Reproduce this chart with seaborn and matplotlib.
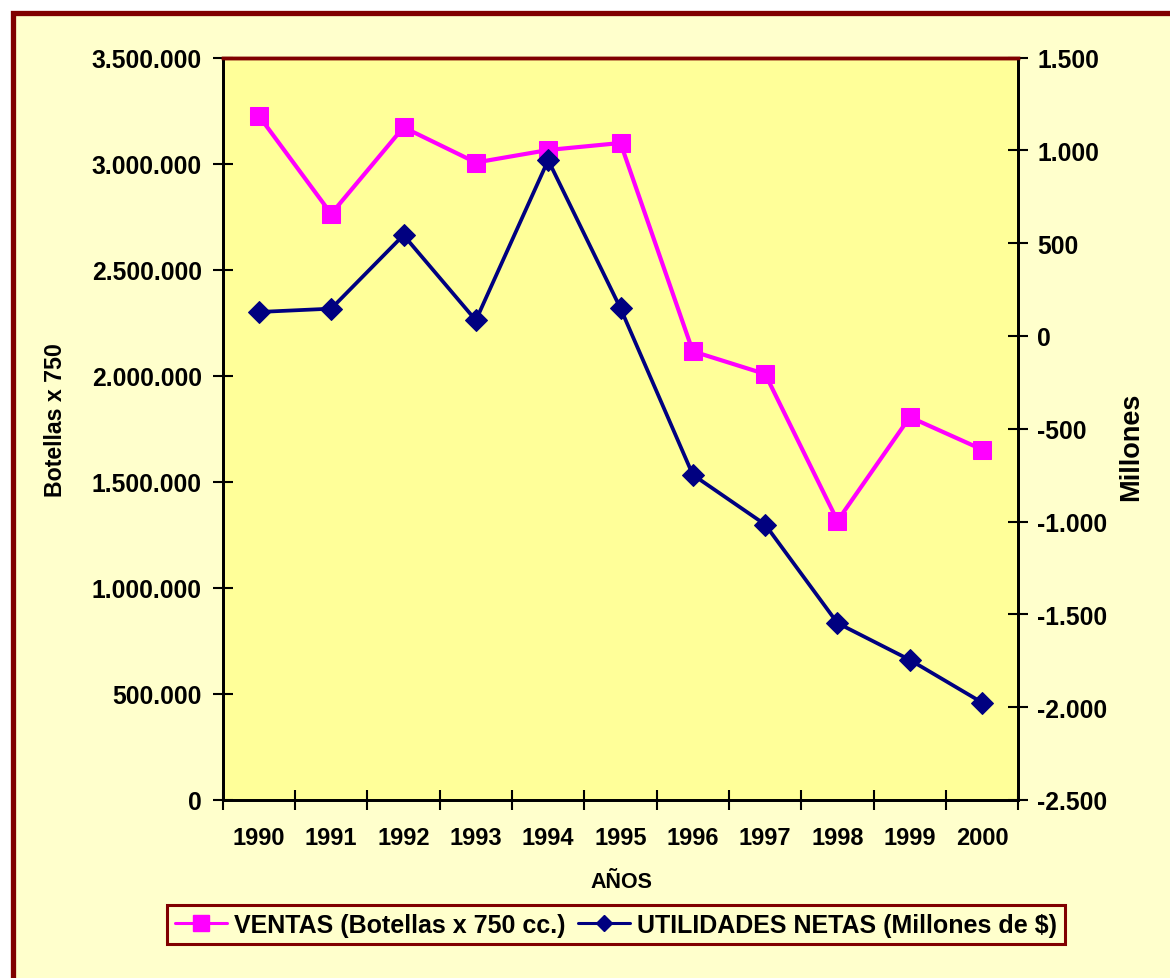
import matplotlib
matplotlib.use("Agg")
import matplotlib.pyplot as plt
import seaborn as sns
import numpy as np
from matplotlib.patches import Rectangle
from matplotlib.ticker import FuncFormatter, FixedLocator, NullFormatter
from matplotlib.lines import Line2D

# ---- data ----
years = [1990, 1991, 1992, 1993, 1994, 1995, 1996, 1997, 1998, 1999, 2000]
ventas = [3225000, 2763000, 3171000, 3005000, 3064000, 3097000,
          2115000, 2008000, 1316000, 1805000, 1652000]
utilidades = [129, 147, 543, 84, 947, 149, -748, -1016, -1547, -1745, -1975]
left_ticks = [0, 500000, 1000000, 1500000, 2000000, 2500000, 3000000, 3500000]
right_ticks = [-2500, -2000, -1500, -1000, -500, 0, 500, 1000, 1500]
label_ventas = "VENTAS (Botellas x 750 cc.)"
label_util = "UTILIDADES NETAS (Millones de $)"

sns.set_theme(style="white")
plt.rcParams['font.family'] = ['Liberation Sans', 'DejaVu Sans']
plt.rcParams['font.weight'] = 'bold'
plt.rcParams['text.color'] = 'black'
plt.rcParams['axes.labelcolor'] = 'black'
plt.rcParams['xtick.color'] = 'black'
plt.rcParams['ytick.color'] = 'black'

MAGENTA = "#FF00FF"
NAVY = "#000080"
DARKRED = "#800000"

fig = plt.figure(figsize=(11.7, 9.79), dpi=100, facecolor="white")
# outer chart frame
fig.patches.append(Rectangle((12.5 / 1170, -0.2), 1.3, 1.2 - 14 / 979,
                             transform=fig.transFigure, facecolor="#FFFFCC",
                             edgecolor=DARKRED, linewidth=3.8, zorder=-10))

ax = fig.add_axes([222.7 / 1170, 1 - 801 / 979, 795.6 / 1170, 742.5 / 979])
ax.set_facecolor("#FFFF99")
ax2 = ax.twinx()

sns.lineplot(x=years, y=ventas, ax=ax, color=MAGENTA, marker='s', markersize=13.5,
             markeredgecolor=MAGENTA, linewidth=3, label=label_ventas, legend=False)
sns.lineplot(x=years, y=utilidades, ax=ax2, color=NAVY, marker='D', markersize=11,
             markeredgecolor=NAVY, linewidth=2.7, label=label_util, legend=False)

ax.set_xlim(1989.5, 2000.5)
ax.set_ylim(0, 3500000)
ax2.set_ylim(-2500, 1500)

ax.yaxis.set_major_locator(FixedLocator(left_ticks))
ax2.yaxis.set_major_locator(FixedLocator(right_ticks))
fmt = FuncFormatter(lambda v, p: f"{int(round(v)):,}".replace(",", "."))
ax.yaxis.set_major_formatter(fmt)
ax2.yaxis.set_major_formatter(fmt)

ax.xaxis.set_major_locator(FixedLocator(np.arange(1989.5, 2001, 1.0)))
ax.xaxis.set_major_formatter(NullFormatter())
ax.xaxis.set_minor_locator(FixedLocator(years))
ax.xaxis.set_minor_formatter(FuncFormatter(lambda v, p: str(int(round(v)))))

ax.tick_params(axis='x', which='major', direction='inout', length=15, width=1.5,
               color='black', bottom=True)
ax.tick_params(axis='x', which='minor', length=0, pad=19, labelsize=17, bottom=True)
ax.tick_params(axis='y', direction='inout', length=15, width=1.5, color='black',
               pad=7.5, labelsize=17.8, left=True)
ax2.tick_params(axis='y', direction='inout', length=15, width=1.5, color='black',
                pad=6, labelsize=17.8, right=True)
for lab in ax.get_xticklabels(minor=True) + ax.get_yticklabels() + ax2.get_yticklabels():
    lab.set_fontweight('bold')

for a in (ax, ax2):
    for s in ('left', 'bottom', 'right'):
        a.spines[s].set_color('black')
        a.spines[s].set_linewidth(2)
    a.spines['top'].set_color(DARKRED)
    a.spines['top'].set_linewidth(2.5)
ax2.grid(False)
ax.grid(False)

ax.set_ylabel("Botellas x 750", fontsize=16.7, fontweight='bold')
ax.yaxis.set_label_coords(-0.1957, 0.513)
ax2.set_ylabel("Millones", fontsize=19.5, fontweight='bold')
ax2.yaxis.set_label_coords(1.1253, 0.477)
ax.set_xlabel("AÑOS", fontsize=15.5, fontweight='bold')
ax.xaxis.set_label_coords(0.501, -0.0956)

handles = [Line2D([], [], color=MAGENTA, marker='s', markersize=11, linewidth=2.2,
                  markeredgecolor=MAGENTA),
           Line2D([], [], color=NAVY, marker='D', markersize=8.5, linewidth=2.2,
                  markeredgecolor=NAVY)]
leg = fig.legend(handles, [label_ventas, label_util], loc='center',
                 bbox_to_anchor=(616 / 1170, 1 - 925.6 / 979), ncol=2, fancybox=False,
                 frameon=True, facecolor="#FFFFCC", edgecolor=DARKRED,
                 prop={'size': 18, 'weight': 'bold'}, handlelength=2.1,
                 handletextpad=0.28, columnspacing=0.48, borderpad=0.3,
                 borderaxespad=0, framealpha=1)
leg.get_frame().set_linewidth(2.2)

fig.savefig("out.png", dpi=100, facecolor=fig.get_facecolor())
